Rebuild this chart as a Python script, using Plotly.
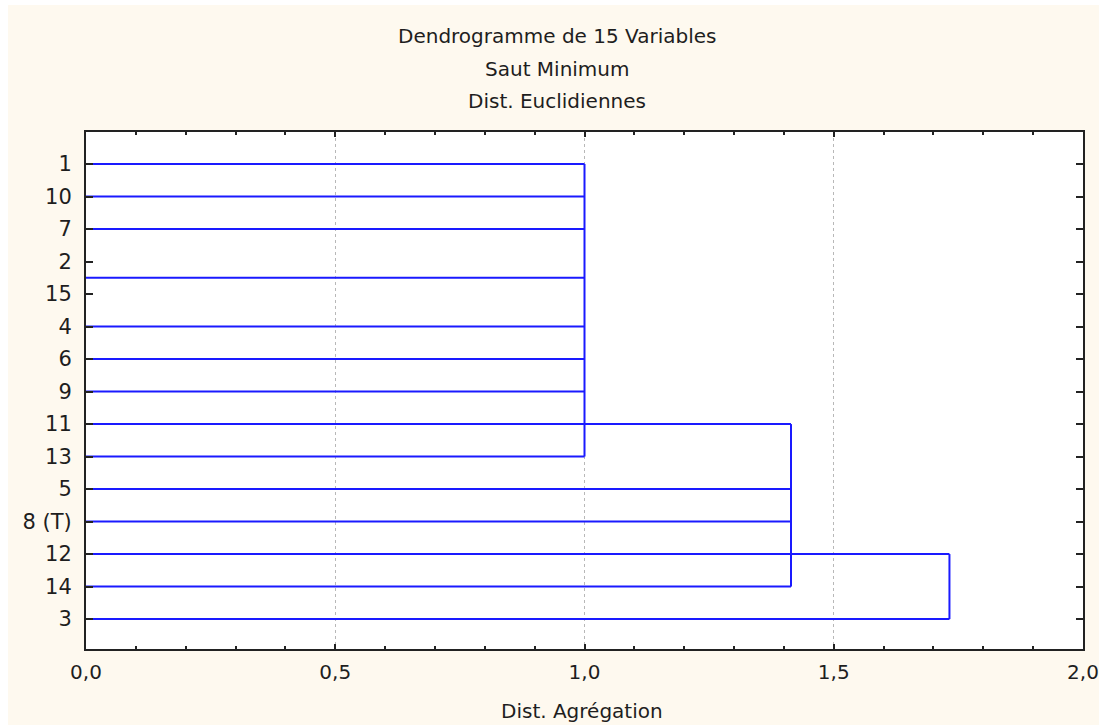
import plotly.graph_objects as go

# ---- data ----
row_labels = ["1", "10", "7", "2", "15", "4", "6", "9", "11", "13", "5", "8 (T)", "12", "14", "3"]
# horizontal branches: row position (2 and 15 are joined at distance 0 -> midpoint) and distance reached
branch_rows = [0, 1, 2, 3.5, 5, 6, 7, 8, 9, 10, 11, 12, 13, 14]
branch_ends = [1.0, 1.0, 1.0, 1.0, 1.0, 1.0, 1.0, 1.4142, 1.0, 1.4142, 1.4142, 1.7321, 1.4142, 1.7321]
# vertical links: aggregation distance, first row, last row
link_heights = [1.0, 1.4142, 1.7321]
link_from = [0, 8, 12]
link_to = [9, 13, 14]

title_lines = ["Dendrogramme de 15 Variables", "Saut Minimum", "Dist. Euclidiennes"]
x_title = "Dist. Agrégation"

FONT = "DejaVu Sans"
TXT = "#1e1e1e"
BLUE = "#1a1aff"

W, H = 1099, 725
L, R, T, B = 86, 1083, 132, 649

xs, ys = [], []
for r, e in zip(branch_rows, branch_ends):
    xs += [0, e, None]
    ys += [r, r, None]
for h, a, b in zip(link_heights, link_from, link_to):
    xs += [h, h, None]
    ys += [a, b, None]

fig = go.Figure()
fig.add_trace(go.Scatter(x=xs, y=ys, mode="lines",
                         line=dict(color=BLUE, width=2), hoverinfo="skip",
                         showlegend=False))

def py(p):
    return (B - p) / (B - T)

def px(p):
    return (p - L) / (R - L)

annotations = []
for txt, yc in zip(title_lines, [36, 69, 101]):
    annotations.append(dict(text=txt, x=px(557), y=py(yc), xref="paper", yref="paper",
                            xanchor="center", yanchor="middle", showarrow=False,
                            font=dict(family=FONT, size=20, color=TXT)))
annotations.append(dict(text=x_title, x=px(582), y=py(711), xref="paper", yref="paper",
                        xanchor="center", yanchor="middle", showarrow=False,
                        font=dict(family=FONT, size=20, color=TXT)))

shapes = [
    dict(type="rect", xref="paper", yref="paper", x0=px(0), x1=px(8), y0=py(H), y1=py(0),
         fillcolor="white", line=dict(width=0), layer="below"),
    dict(type="rect", xref="paper", yref="paper", x0=px(0), x1=px(W), y0=py(5), y1=py(0),
         fillcolor="white", line=dict(width=0), layer="below"),
]

fig.update_layout(
    width=W, height=H, autosize=False,
    margin=dict(l=L, r=W - R, t=T, b=H - B, pad=0, autoexpand=False),
    paper_bgcolor="#fef9ef", plot_bgcolor="white",
    separators=", ",
    annotations=annotations, shapes=shapes,
    font=dict(family=FONT, color=TXT, size=20),
)
fig.update_xaxes(
    range=[0, 2], tickvals=[0, 0.5, 1.0, 1.5, 2.0], tickformat=".1f",
    ticks="inside", ticklen=5, tickwidth=2, tickcolor="#222",
    minor=dict(dtick=0.1, ticks="inside", ticklen=3, tickwidth=2, tickcolor="#222", showgrid=False),
    showgrid=True, gridcolor="#b8b8b8", griddash="dot", gridwidth=1,
    showline=True, linecolor="#222", linewidth=2, mirror="ticks",
    zeroline=False, ticklabelstandoff=4, automargin=False,
    tickfont=dict(family=FONT, size=20, color=TXT),
)
fig.update_yaxes(
    range=[14.92, -0.985], tickvals=list(range(len(row_labels))), ticktext=row_labels,
    ticks="inside", ticklen=7, tickwidth=2, tickcolor="#222",
    showgrid=False, zeroline=False, automargin=False,
    showline=True, linecolor="#222", linewidth=2, mirror="ticks",
    ticklabelstandoff=8,
    tickfont=dict(family=FONT, size=21, color=TXT),
)

fig.write_html("out.html", config={"displayModeBar": False},
               post_script="document.body.style.margin='0';document.body.style.overflow='hidden';")
